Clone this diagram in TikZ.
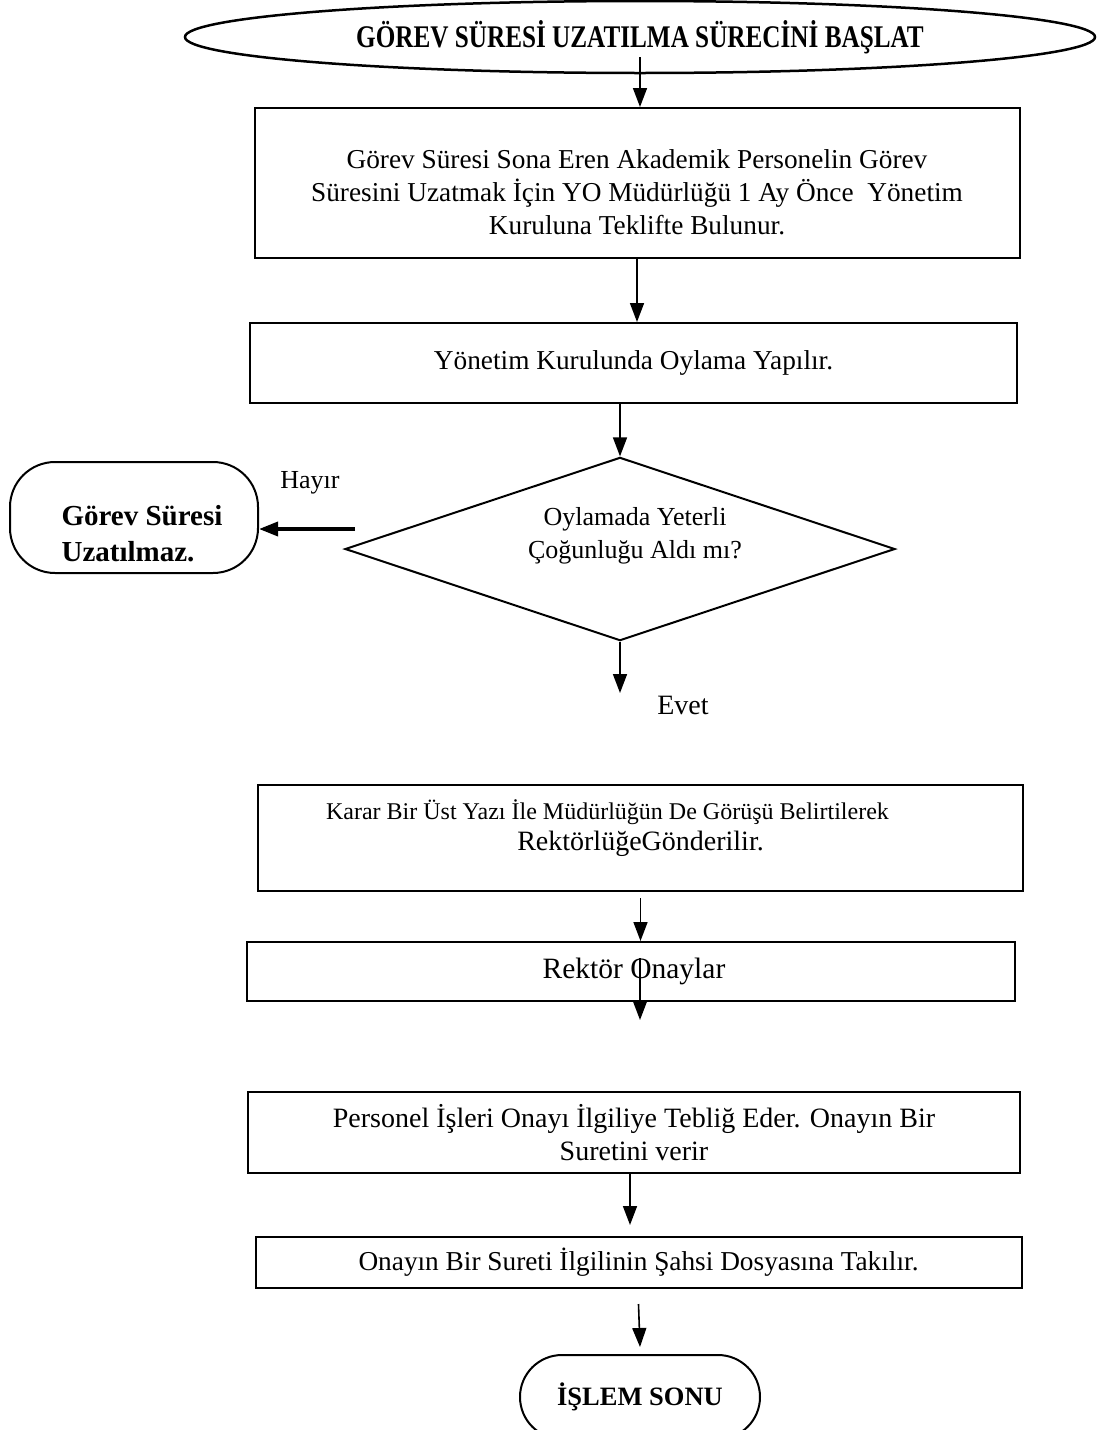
\documentclass[tikz,border=0pt]{standalone}
\usepackage{fontspec}
\setmainfont{Liberation Serif}
\newfontfamily\darfont[FakeStretch=0.8]{Liberation Serif}
\usetikzlibrary{shapes.geometric,arrows.meta}
\newcommand{\govde}{\fontsize{27.3}{33}\selectfont}
\newcommand{\kutuw}{766pt}

\begin{document}
\begin{tikzpicture}[x=1pt,y=-1pt,
    every node/.style={font=\govde},
    adim/.style={draw,line width=2pt,inner sep=0pt,align=center},
    ok/.style={-{Triangle[length=19pt,width=14pt]},line width=1.6pt}]
    \useasboundingbox (0,0) rectangle (1104,1430);

        % Start
        \node[adim,ellipse,line width=2.5pt,minimum width=910pt,minimum height=72pt,
              font=\darfont\bfseries\fontsize{31.5}{36}\selectfont] (basla) at (640,37)
            {GÖREV SÜRESİ UZATILMA SÜRECİNİ BAŞLAT};

        % Boxes
        \node[adim,minimum width=765pt,minimum height=150pt,
              text height=110pt,text depth=8pt] (teklif) at (637,183)
            {Görev Süresi Sona Eren Akademik Personelin Görev\\
             Süresini Uzatmak İçin YO Müdürlüğü 1 Ay Önce \ Yönetim\\
             Kuruluna Teklifte Bulunur.};
        \node[adim,minimum width=767pt,minimum height=80pt] (kurul) at (633.5,363)
            {Yönetim Kurulunda Oylama Yapılır.};

        % Decision
        \node[adim,diamond,aspect=3,minimum width=550pt,minimum height=182pt,
              text height=60pt,text depth=42pt,font=\fontsize{26}{33}\selectfont] (oylama) at (620,549)
            {\hspace*{30pt}Oylamada Yeterli\\ \hspace*{30pt}Çoğunluğu Aldı mı?};
        \node[adim,align=left,rounded corners=45pt,minimum width=248pt,minimum height=111pt,
              text height=95pt,text depth=8pt,
              font=\bfseries\fontsize{29}{36}\selectfont] (uzatilmaz) at (134,517.5)
            {\hspace*{16pt}Görev Süresi\\ \hspace*{16pt}Uzatılmaz.};
        \node[font=\fontsize{26}{33}\selectfont] (hayir) at (310,483) {Hayır};
        \node[font=\fontsize{28}{33}\selectfont] (evet) at (683,705) {Evet};

        \node[adim,minimum width=765pt,minimum height=106pt,
              text height=52pt,text depth=28pt,font=\fontsize{24}{31}\selectfont] (karar) at (640.5,838)
            {Karar Bir Üst Yazı İle Müdürlüğün De Görüşü Belirtilerek\hspace*{66pt}\\
             {\fontsize{28}{31}\selectfont RektörlüğeGönderilir.}};
        \node[adim,minimum width=768pt,minimum height=59pt,font=\fontsize{29.5}{33}\selectfont] (rektor) at (631,971.5)
            {\hspace*{6pt}Rektör Onaylar};
        \node[adim,minimum width=772pt,minimum height=81pt,font=\fontsize{28}{33}\selectfont] (personel) at (634,1132.5)
            {Personel İşleri Onayı İlgiliye Tebliğ Eder. Onayın Bir\\ Suretini verir};
        \node[adim,minimum width=\kutuw,minimum height=51pt] (dosya) at (638.5,1262.5)
            {Onayın Bir Sureti İlgilinin Şahsi Dosyasına Takılır.};

        % End
        \node[adim,rounded corners=42pt,minimum width=240pt,minimum height=84pt,
              font=\bfseries\fontsize{26.5}{33}\selectfont] (son) at (640,1397)
            {İŞLEM SONU};

        % Free ends
        \coordinate (hayirbas) at (355,529);
        \coordinate (evetson) at (620,693);
        \coordinate (onaybas) at (640,958);
        \coordinate (onayson) at (640,1020);
        \coordinate (tebligson) at (630,1225);

        % Arrows
        \draw[ok] ([yshift=-20pt]basla.center) -- (basla.center |- teklif.north);
        \draw[ok] (teklif.south) -- (teklif.south |- kurul.north);
        \draw[ok] (kurul.south -| oylama.north) -- (oylama.north);
        \draw[ok,line width=3.5pt] (hayirbas) -- (hayirbas -| uzatilmaz.east);
        \draw[ok] (oylama.south) -- (evetson);
        \draw[ok] ([yshift=-6pt]karar.south) -- (karar.south |- rektor.north);
        \draw[ok] (onaybas) -- (onayson);
        \draw[ok] (tebligson |- personel.south) -- (tebligson);
        \draw[ok] ([yshift=-15pt]dosya.south) -- ([yshift=7pt]son.north);
    \end{tikzpicture}
\end{document}
